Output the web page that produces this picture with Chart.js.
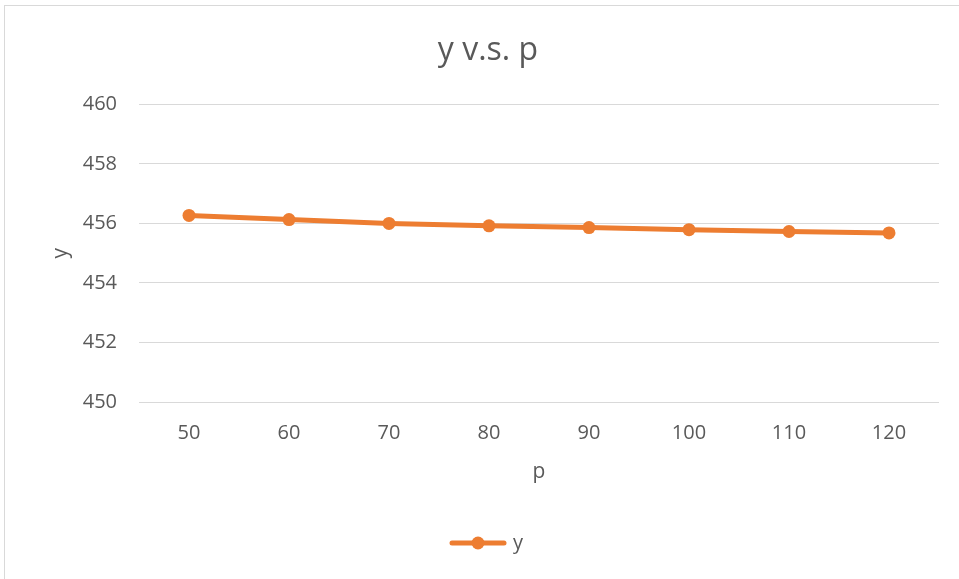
<!DOCTYPE html>
<html>
<head>
<meta charset="utf-8">
<script src="https://cdn.jsdelivr.net/npm/chart.js@4/dist/chart.umd.min.js"></script>
<style>
  html, body { margin: 0; padding: 0; background: #fff; overflow: hidden; }
  #frame {
    position: absolute; left: 4px; top: 5px; width: 970px; height: 590px;
    border: 1px solid #d9d9d9; box-sizing: border-box;
  }
  #wrap { position: absolute; left: 0; top: 0; width: 959px; height: 579px; }
</style>
</head>
<body>
<div id="frame"></div>
<div id="wrap"><canvas id="chart" width="959" height="579"></canvas></div>
<script>
  const pValues = ["50", "60", "70", "80", "90", "100", "110", "120"];
  const yValues = [456.27, 456.13, 456.0, 455.92, 455.86, 455.79, 455.73, 455.68];
  const yTicks = [450, 452, 454, 456, 458, 460];

  const orange = "#ED7D31";
  const textGray = "#595959";
  const fontFamily = "'Open Sans', 'Liberation Sans', sans-serif";

  // small line-with-marker swatch for the legend
  const swatch = document.createElement("canvas");
  swatch.width = 58;
  swatch.height = 16;
  const sctx = swatch.getContext("2d");
  sctx.strokeStyle = orange;
  sctx.lineWidth = 5;
  sctx.lineCap = "round";
  sctx.beginPath();
  sctx.moveTo(3, 8);
  sctx.lineTo(55, 8);
  sctx.stroke();
  sctx.fillStyle = orange;
  sctx.beginPath();
  sctx.arc(29, 8, 6.5, 0, Math.PI * 2);
  sctx.fill();

  const ctx = document.getElementById("chart").getContext("2d");
  new Chart(ctx, {
    type: "line",
    data: {
      labels: pValues,
      datasets: [
        {
          label: "y",
          data: yValues,
          borderColor: orange,
          backgroundColor: orange,
          borderWidth: 5,
          pointRadius: 6.5,
          pointHoverRadius: 6.5,
          pointBackgroundColor: orange,
          pointBorderWidth: 0,
          tension: 0,
        },
      ],
    },
    options: {
      responsive: false,
      animation: false,
      // left padding keeps title and legend centred on the outer frame
      layout: { padding: { left: 37, right: 20, top: 0, bottom: 16 } },
      scales: {
        x: {
          offset: true,
          grid: { display: false, drawTicks: false },
          border: { display: false },
          ticks: { color: textGray, font: { family: fontFamily, size: 20 }, padding: 19 },
          title: {
            display: true,
            text: "p",
            color: textGray,
            font: { family: fontFamily, size: 21 },
            padding: { top: 0, bottom: 38 },
          },
          afterFit: (s) => { s.height = 121; },
        },
        y: {
          min: 450,
          max: 460,
          afterBuildTicks: (s) => { s.ticks = yTicks.map((v) => ({ value: v })); },
          grid: { color: "#d9d9d9", lineWidth: 1, drawTicks: false },
          border: { display: false },
          ticks: { color: textGray, font: { family: fontFamily, size: 20 }, padding: 22 },
          title: {
            display: true,
            text: "y",
            color: textGray,
            font: { family: fontFamily, size: 21 },
            padding: { top: 11, bottom: 0 },
          },
          afterFit: (s) => { s.width = 102; },
        },
      },
      plugins: {
        title: {
          display: true,
          text: "y v.s. p",
          color: textGray,
          font: { family: fontFamily, size: 32, weight: "normal" },
          padding: { top: 32, bottom: 34 },
        },
        legend: {
          position: "bottom",
          labels: {
            color: textGray,
            font: { family: fontFamily, size: 20 },
            usePointStyle: true,
            pointStyleWidth: 50,
            generateLabels: (chart) =>
              chart.data.datasets.map((ds, i) => ({
                text: ds.label,
                pointStyle: swatch,
                fillStyle: orange,
                strokeStyle: orange,
                lineWidth: 0,
                fontColor: textGray,
                datasetIndex: i,
              })),
          },
        },
        tooltip: { enabled: false },
      },
    },
  });
</script>
</body>
</html>
